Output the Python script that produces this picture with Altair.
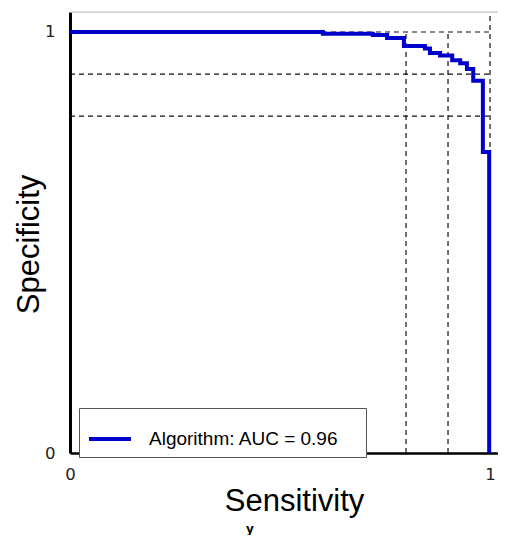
import altair as alt
import pandas as pd

# ---- data ----
sens = [0.0, 0.602, 0.721, 0.755, 0.795, 0.845, 0.857, 0.881, 0.910, 0.929, 0.945, 0.960, 0.983, 0.998]
spec = [1.0, 0.996, 0.993, 0.986, 0.967, 0.961, 0.950, 0.944, 0.933, 0.926, 0.912, 0.884, 0.715, 0.0]
series = ["Algorithm: AUC = 0.96"]
h_cuts = [0.8, 0.9, 1.0]
v_cuts = [0.8, 0.9, 1.0]
x_ticks = [0, 1]
y_ticks = [0, 1]

W, H = 428, 441
x_dom = [0, 1.019]
y_dom = [0, 1.0475]

roc = pd.DataFrame({"sens": sens, "spec": spec, "series": series[0]})
hdf = pd.DataFrame({"v": h_cuts, "a": 0.0, "b": 1.0})
vdf = pd.DataFrame({"v": v_cuts, "a": 0.0, "b": [1.0, 1.0, y_dom[1]]})
frame = pd.DataFrame({"yv": [y_dom[1]], "a": [x_dom[0]], "b": [x_dom[1]]})

xs = alt.Scale(domain=x_dom, nice=False, zero=False)
ys = alt.Scale(domain=y_dom, nice=False, zero=False)

x_axis = alt.Axis(
    values=x_ticks, format="d", ticks=False, grid=False, labelFlush=False,
    labelPadding=13, labelFont="DejaVu Sans", labelFontSize=16.5, labelColor="#222",
    domainColor="black", domainWidth=2.5,
    titleFont="Liberation Sans", titleFontSize=31, titleFontWeight="normal",
    titleColor="black", titleX=224, titleY=57, titleBaseline="alphabetic",
)
y_axis = alt.Axis(
    values=y_ticks, format="d", ticks=False, grid=False,
    labelPadding=15, labelFont="DejaVu Sans", labelFontSize=16.5, labelColor="#222",
    domainColor="black", domainWidth=3,
    titleFont="Liberation Sans", titleFontSize=31, titleFontWeight="normal",
    titleColor="black", titleX=-32, titleY=232, titleAngle=270,
    titleBaseline="alphabetic",
)

XT, YT = "Sensitivity", "Specificity"
DASH = dict(strokeDash=[5, 4], strokeWidth=1.2, color="#111")

hrules = alt.Chart(hdf).mark_rule(**DASH).encode(
    y=alt.Y("v:Q", scale=ys, axis=y_axis, title=YT),
    x=alt.X("a:Q", scale=xs, axis=x_axis, title=XT),
    x2="b:Q",
)
vrules = alt.Chart(vdf).mark_rule(**DASH).encode(
    x=alt.X("v:Q", scale=xs, axis=x_axis, title=XT),
    y=alt.Y("a:Q", scale=ys, axis=y_axis, title=YT),
    y2="b:Q",
)
top_line = alt.Chart(frame).mark_rule(color="#c8c8c8", strokeWidth=1).encode(
    y=alt.Y("yv:Q", scale=ys, axis=y_axis, title=YT),
    x=alt.X("a:Q", scale=xs, axis=x_axis, title=XT),
    x2="b:Q",
)
roc_line = alt.Chart(roc).mark_line(
    interpolate="step-after", strokeWidth=4, strokeCap="butt", strokeJoin="miter"
).encode(
    x=alt.X("sens:Q", scale=xs, axis=x_axis, title=XT),
    y=alt.Y("spec:Q", scale=ys, axis=y_axis, title=YT),
    color=alt.Color(
        "series:N",
        scale=alt.Scale(domain=series, range=["#0000cc"]),
        legend=alt.Legend(
            title=None, orient="none", legendX=9, legendY=396,
            symbolType="stroke", symbolSize=1764, symbolStrokeWidth=4,
            labelFont="Liberation Sans", labelFontSize=19, labelColor="black",
            labelLimit=600, labelOffset=16, padding=8,
            strokeColor="#555", fillColor="white",
            labelExpr="datum.label + '\u00a0\u2800'",
        ),
    ),
)

chart = alt.layer(hrules, vrules, roc_line, top_line).properties(
    width=W,
    height=H,
    autosize=alt.AutoSizeParams(type="none"),
    padding={"left": 62, "top": 4, "right": 0, "bottom": 82},
    title=alt.TitleParams(
        "y", orient="bottom", anchor="middle", frame="group", dx=-34, offset=17,
        font="DejaVu Sans", fontSize=12, fontWeight="bold", color="black",
        baseline="alphabetic",
    ),
).configure_view(stroke=None).configure(background="white")

chart.save("out.html", embed_options={"renderer": "svg", "actions": False})
